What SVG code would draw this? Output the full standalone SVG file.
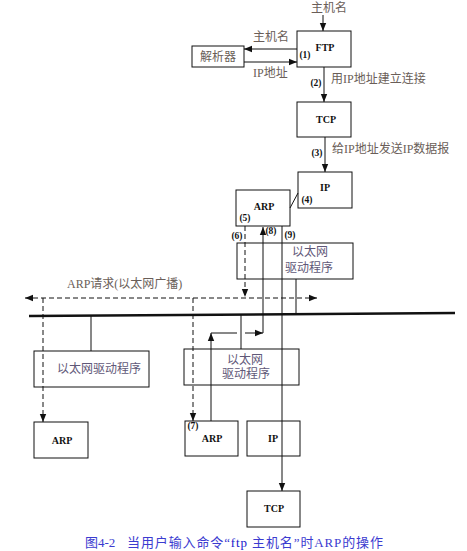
<svg xmlns="http://www.w3.org/2000/svg" width="467" height="551" viewBox="0 0 467 551">
<style>
.box{fill:#fff;stroke:#111;stroke-width:1}
.bl{font-family:"Liberation Serif","Noto Sans CJK SC",serif;font-weight:bold;font-size:10px;fill:#111;text-anchor:middle}
.num{font-family:"Liberation Serif",serif;font-weight:bold;font-size:9.5px;fill:#111;text-anchor:middle}
.lab{font-family:"Liberation Serif","Noto Sans CJK SC",serif;font-size:12px;fill:#6a5e58}
.drv{font-family:"Liberation Serif","Noto Sans CJK SC",serif;font-size:12px;fill:#5f5878;text-anchor:middle}
.ln{fill:none;stroke:#111;stroke-width:1}
.dash{fill:none;stroke:#111;stroke-width:1;stroke-dasharray:5,3}
.cap{font-family:"Liberation Serif","Noto Sans CJK SC",serif;font-size:13px;fill:#3b3bd0}
</style>
<defs>
<marker id="ah" viewBox="0 0 10 10" refX="10" refY="5" markerWidth="8" markerHeight="8" markerUnits="userSpaceOnUse" orient="auto-start-reverse">
<path d="M0,1 L10,5 L0,9 Z" fill="#111"/>
</marker>
</defs>
<rect width="467" height="551" fill="#fff"/>

<g id="ftp"><rect class="box" x="297" y="31" width="54" height="36"/><text class="bl" x="325" y="51">FTP</text><text class="num" x="305" y="58">(1)</text></g>
<g id="resolver"><rect class="box" x="192" y="46" width="52" height="21"/><text class="lab" x="218" y="61" text-anchor="middle">解析器</text></g>
<g id="tcp1"><rect class="box" x="297" y="102" width="54" height="35"/><text class="bl" x="326" y="123">TCP</text></g>
<g id="ip1"><rect class="box" x="298" y="172" width="54" height="36"/><text class="bl" x="325" y="191">IP</text><text class="num" x="307" y="203">(4)</text></g>
<g id="arp1"><rect class="box" x="236" y="190" width="54" height="36"/><text class="bl" x="264" y="210">ARP</text><text class="num" x="245" y="221">(5)</text></g>
<g id="drv1"><rect class="box" x="237" y="243" width="116" height="36"/><text class="drv" x="310" y="256">以太网</text><text class="drv" x="309" y="272">驱动程序</text></g>
<g id="drvL"><rect class="box" x="34" y="351" width="115" height="36"/><text class="drv" x="99" y="373">以太网驱动程序</text></g>
<g id="drv2"><rect class="box" x="184" y="349" width="115" height="36"/><text class="drv" x="245" y="364">以太网</text><text class="drv" x="246" y="378">驱动程序</text></g>
<g id="arpL"><rect class="box" x="34" y="422" width="54" height="36"/><text class="bl" x="62" y="444">ARP</text></g>
<g id="arp2"><rect class="box" x="185" y="421" width="53" height="35"/><text class="bl" x="212" y="442">ARP</text><text class="num" x="193" y="429">(7)</text></g>
<g id="ip2"><rect class="box" x="247" y="421" width="53" height="35"/><text class="bl" x="273" y="442">IP</text></g>
<g id="tcp2"><rect class="box" x="247" y="491" width="53" height="36"/><text class="bl" x="274" y="512">TCP</text></g>

<g id="ethernet"><line x1="29" y1="316" x2="455" y2="313" stroke="#111" stroke-width="2.5"/></g>

<g id="connectors">
<line class="ln" x1="323" y1="15" x2="323" y2="31" marker-end="url(#ah)"/>
<line class="ln" x1="297" y1="49" x2="244" y2="49" marker-end="url(#ah)"/>
<line class="ln" x1="244" y1="62" x2="297" y2="62" marker-end="url(#ah)"/>
<line class="ln" x1="324" y1="67" x2="324" y2="102" marker-end="url(#ah)"/>
<line class="ln" x1="325" y1="137" x2="325" y2="172" marker-end="url(#ah)"/>
<line class="ln" x1="290" y1="208" x2="298" y2="193"/>
<line class="dash" x1="245" y1="226" x2="245" y2="297" marker-end="url(#ah)"/>
<line class="dash" x1="25" y1="298" x2="317" y2="298" marker-start="url(#ah)" marker-end="url(#ah)"/>
<line class="dash" x1="43" y1="298" x2="43" y2="422" marker-end="url(#ah)"/>
<line class="dash" x1="193" y1="298" x2="193" y2="421" marker-end="url(#ah)"/>
<line class="ln" x1="91" y1="316" x2="91" y2="351"/>
<line class="ln" x1="296" y1="279" x2="296" y2="314"/>
<line class="ln" x1="241" y1="315" x2="241" y2="349"/>
<line class="ln" x1="211" y1="421" x2="211" y2="333" marker-end="url(#ah)"/>
<line class="ln" x1="211" y1="333" x2="237" y2="333"/>
<line class="ln" x1="245" y1="333" x2="263" y2="333" marker-end="url(#ah)"/>
<line class="ln" x1="263" y1="333" x2="263" y2="227" marker-end="url(#ah)"/>
<line class="ln" x1="282" y1="226" x2="282" y2="491" marker-end="url(#ah)"/>
</g>

<g id="labels">
<text class="lab" x="311" y="12">主机名</text>
<text class="lab" x="253" y="41">主机名</text>
<text class="lab" x="253" y="77">IP地址</text>
<text class="num" x="316" y="86">(2)</text>
<text class="lab" x="331" y="83">用IP地址建立连接</text>
<text class="num" x="317" y="156">(3)</text>
<text class="lab" x="332" y="153">给IP地址发送IP数据报</text>
<text class="num" x="237" y="239">(6)</text>
<text class="num" x="271" y="234">(8)</text>
<text class="num" x="290" y="238">(9)</text>
<text class="lab" x="67" y="288">ARP请求(以太网广播)</text>
</g>

<g id="caption">
<text class="cap" x="85" y="547">图4-2</text>
<text class="cap" x="127" y="547" textLength="256" lengthAdjust="spacing">当用户输入命令“<tspan fill="#1a1acc">ftp</tspan> 主机名”时ARP的操作</text>
</g>
</svg>
